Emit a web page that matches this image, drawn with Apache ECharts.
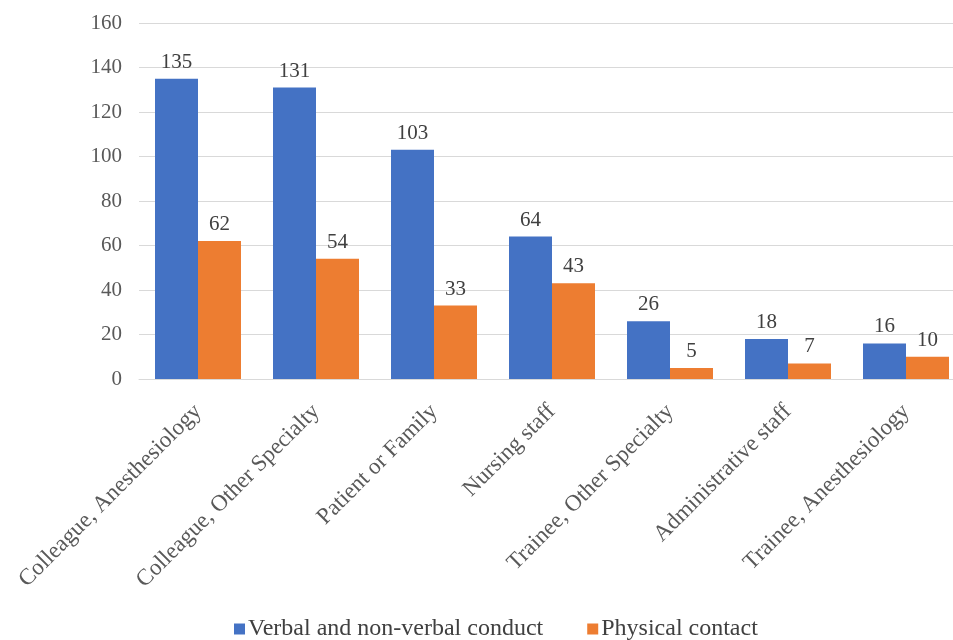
<!DOCTYPE html>
<html>
<head>
<meta charset="utf-8">
<script src="https://cdn.jsdelivr.net/npm/echarts@6/dist/echarts.min.js"></script>
<style>
html,body{margin:0;padding:0;background:#fff;overflow:hidden;width:953px;height:640px;}
#main{width:965px;height:640px;}
</style>
</head>
<body>
<div id="main"></div>
<script>
const categories = ["Colleague, Anesthesiology","Colleague, Other Specialty","Patient or Family","Nursing staff","Trainee, Other Specialty","Administrative staff","Trainee, Anesthesiology"];
const verbal = [135,131,103,64,26,18,16];
const physical = [62,54,33,43,5,7,10];
const seriesNames = ["Verbal and non-verbal conduct","Physical contact"];
const yTicks = {min:0, max:160, interval:20};

const font = '"Liberation Serif","Times New Roman",serif';
const chart = echarts.init(document.getElementById('main'), null, {renderer:'canvas'});
chart.setOption({
  animation:false,
  backgroundColor:'#ffffff',
  textStyle:{fontFamily:font},
  grid:{left:139, top:23, width:826, height:356, containLabel:false},
  legend:{
    top:612, left:229,
    itemWidth:11, itemHeight:11, itemGap:44,
    icon:'rect',
    textStyle:{fontFamily:font, fontSize:24, color:'#404040', padding:[0,0,0,-2]},
    data:seriesNames
  },
  xAxis:{
    type:'category', data:categories,
    axisLine:{show:true, lineStyle:{color:'#d9d9d9', width:1}},
    axisTick:{show:false},
    axisLabel:{rotate:45, interval:0, margin:29, fontFamily:font, fontSize:23, color:'#595959'}
  },
  yAxis:{
    type:'value', min:yTicks.min, max:yTicks.max, interval:yTicks.interval,
    axisLine:{show:false}, axisTick:{show:false},
    axisLabel:{fontFamily:font, fontSize:21, color:'#595959', margin:17},
    splitLine:{lineStyle:{color:'#d9d9d9', width:1}}
  },
  series:[
    {name:seriesNames[0], type:'bar', data:verbal, barWidth:43, barGap:'0%',
     itemStyle:{color:'#4472c4'},
     label:{show:true, position:'top', distance:6, fontFamily:font, fontSize:21, color:'#404040'}},
    {name:seriesNames[1], type:'bar', data:physical, barWidth:43, barGap:'0%',
     itemStyle:{color:'#ed7d31'},
     label:{show:true, position:'top', distance:6, fontFamily:font, fontSize:21, color:'#404040'}}
  ]
});
</script>
</body>
</html>
